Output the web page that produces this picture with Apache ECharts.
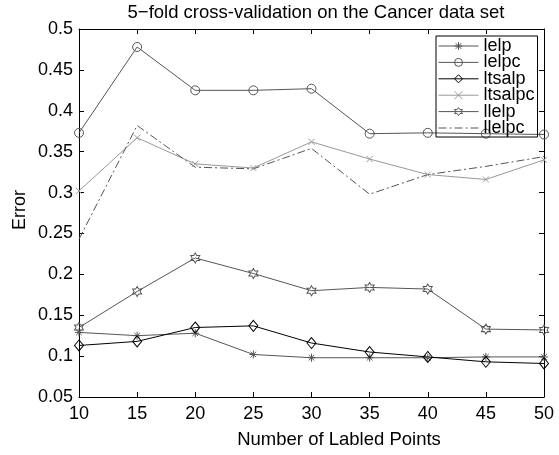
<!DOCTYPE html>
<html>
<head>
<meta charset="utf-8">
<script src="https://cdn.jsdelivr.net/npm/echarts@6/dist/echarts.min.js"></script>
<style>
  html, body { margin: 0; padding: 0; background: #fff; }
  #chart { width: 559px; height: 455px; }
</style>
</head>
<body>
<div id="chart"></div>
<script>
// Number of labelled points (x positions)
const xValues = [10, 15, 20, 25, 30, 35, 40, 45, 50];

// Cross-validation error for each method
const lelp    = [0.129, 0.125, 0.128, 0.102, 0.098, 0.098, 0.098, 0.099, 0.099];
const lelpc   = [0.373, 0.478, 0.425, 0.425, 0.427, 0.372, 0.373, 0.372, 0.371];
const ltsalp  = [0.113, 0.118, 0.135, 0.137, 0.116, 0.105, 0.099, 0.093, 0.091];
const ltsalpc = [0.302, 0.367, 0.335, 0.330, 0.362, 0.341, 0.322, 0.316, 0.340];
const llelp   = [0.135, 0.179, 0.220, 0.201, 0.180, 0.184, 0.182, 0.133, 0.132];
const llelpc  = [0.243, 0.382, 0.331, 0.329, 0.354, 0.298, 0.322, 0.332, 0.344];

const seriesNames = ['lelp', 'lelpc', 'ltsalp', 'ltsalpc', 'llelp', 'llelpc'];

const FONT = 'Liberation Sans, Arial, Helvetica, sans-serif';

// Marker shapes (stroked outlines)
const ASTERISK = 'path://M50 0 L50 100 M0 50 L100 50 M15 15 L85 85 M85 15 L15 85';
const CROSS = 'path://M0 0 L100 100 M100 0 L0 100';
const HEXAGRAM = 'path://M50 0 L64.4 25 L93.3 25 L78.9 50 L93.3 75 L64.4 75 L50 100 L35.6 75 L6.7 75 L21.1 50 L6.7 25 L35.6 25 Z';

function pairs(ys) {
  return xValues.map((x, i) => [x, ys[i]]);
}

function makeSeries(name, ys, color, symbol, size, lineType) {
  const hasMarker = symbol !== null;
  return {
    name: name,
    type: 'line',
    data: pairs(ys),
    xAxisIndex: 0,
    yAxisIndex: 0,
    symbol: hasMarker ? symbol : 'circle',
    symbolSize: hasMarker ? size : 1,
    showSymbol: hasMarker,
    lineStyle: { color: color, width: 1, type: lineType || 'solid' },
    itemStyle: {
      color: 'none',
      borderColor: hasMarker ? color : 'rgba(0,0,0,0)',
      borderWidth: 1
    },
    emphasis: { disabled: true },
    animation: false
  };
}

const chart = echarts.init(document.getElementById('chart'), null, { renderer: 'canvas' });

const axisCommon = {
  axisLine: { show: true, lineStyle: { color: '#000', width: 1 } },
  axisTick: { show: true, inside: true, length: 5, lineStyle: { color: '#000' } },
  splitLine: { show: false }
};

chart.setOption({
  animation: false,
  backgroundColor: '#fff',
  grid: { left: 79, right: 15, top: 29, bottom: 58, containLabel: false },
  xAxis: [
    Object.assign({
      type: 'value', position: 'bottom', min: 10, max: 50, interval: 5,
      axisLabel: { show: true, margin: 8, color: '#000', fontSize: 18, fontFamily: FONT }
    }, axisCommon),
    Object.assign({
      type: 'value', position: 'top', min: 10, max: 50, interval: 5,
      axisLabel: { show: false }
    }, axisCommon)
  ],
  yAxis: [
    Object.assign({
      type: 'value', position: 'left', min: 0.05, max: 0.5, interval: 0.05,
      axisLabel: {
        show: true, margin: 6, color: '#000', fontSize: 18, fontFamily: FONT,
        formatter: v => String(Math.round(v * 100) / 100)
      }
    }, axisCommon),
    Object.assign({
      type: 'value', position: 'right', min: 0.05, max: 0.5, interval: 0.05,
      axisLabel: { show: false }
    }, axisCommon)
  ],
  legend: {
    data: seriesNames,
    orient: 'vertical',
    left: 436,
    top: 36,
    padding: [1, 3, 0, 2],
    itemWidth: 40,
    itemHeight: 10,
    itemGap: -1.6,
    borderColor: '#000',
    borderWidth: 1,
    backgroundColor: 'transparent',
    lineStyle: { width: 1 },
    itemStyle: { borderWidth: 1 },
    textStyle: { fontSize: 18, fontFamily: FONT, color: '#000', lineHeight: 16 },
    selectedMode: false
  },
  graphic: [
    {
      type: 'text', x: 316, y: 13, silent: true,
      style: {
        text: '5\u2212fold cross-validation on the Cancer data set',
        fontSize: 18.5, fontFamily: FONT, fill: '#000',
        align: 'center', verticalAlign: 'middle'
      }
    },
    {
      type: 'text', x: 339, y: 440, silent: true,
      style: {
        text: 'Number of Labled Points',
        fontSize: 18.5, fontFamily: FONT, fill: '#000',
        align: 'center', verticalAlign: 'middle'
      }
    },
    {
      type: 'text', x: 20, y: 210, rotation: Math.PI / 2, silent: true,
      style: {
        text: 'Error',
        fontSize: 18, fontFamily: FONT, fill: '#000',
        align: 'center', verticalAlign: 'middle'
      }
    }
  ],
  series: [
    makeSeries('lelp', lelp, '#555', ASTERISK, 8),
    makeSeries('lelpc', lelpc, '#555', 'circle', 9),
    makeSeries('ltsalp', ltsalp, '#000', 'diamond', [9, 11]),
    makeSeries('ltsalpc', ltsalpc, '#999', CROSS, 6),
    makeSeries('llelp', llelp, '#555', HEXAGRAM, [9, 10]),
    makeSeries('llelpc', llelpc, '#555', null, 0, [8, 3, 2, 3])
  ]
});
</script>
</body>
</html>
